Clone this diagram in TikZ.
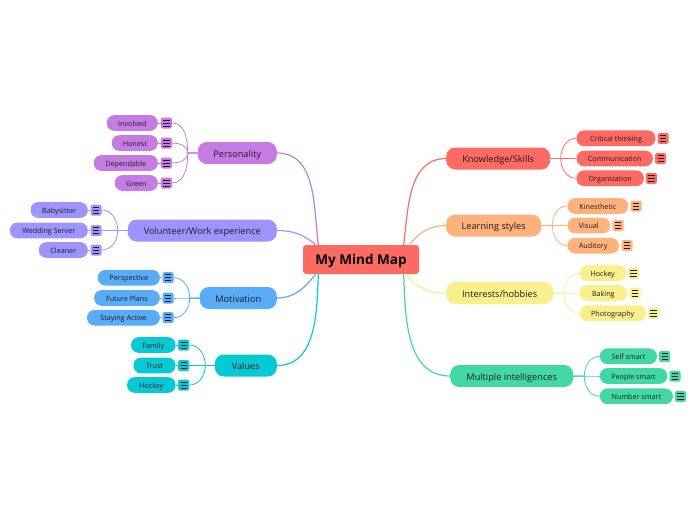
\documentclass[tikz,border=0pt]{standalone}
\usepackage{fontspec}
\setmainfont{Open Sans}
\usetikzlibrary{positioning,calc}
\definecolor{myred}{RGB}{255,106,99}
\definecolor{myorange}{RGB}{255,178,124}
\definecolor{myyellow}{RGB}{249,240,141}
\definecolor{mygreen}{RGB}{66,216,166}
\definecolor{mypurple}{RGB}{197,123,227}
\definecolor{myviolet}{RGB}{157,148,255}
\definecolor{myblue}{RGB}{89,172,247}
\definecolor{myteal}{RGB}{6,202,211}
\definecolor{myink}{RGB}{30,30,36}
\begin{document}
\begin{tikzpicture}[x=1pt,y=1pt,
    rootnode/.style={rectangle,rounded corners=3pt,fill=myred,minimum width=116pt,minimum height=29pt,inner sep=0pt,text height=11pt,text depth=1pt,font=\fontsize{13.5}{16}\selectfont\bfseries},
    branchnode/.style={rectangle,rounded corners=9pt,minimum height=22pt,inner sep=0pt,text=myink,text height=9pt,text depth=1pt,font=\fontsize{9.2}{11}\selectfont},
    leafnode/.style={rectangle,rounded corners=7.5pt,minimum height=15.7pt,inner sep=0pt,text=myink,text height=7.4pt,text depth=1pt,font=\fontsize{7.2}{8}\selectfont},
    iconnode/.style={rectangle,rounded corners=1.5pt,minimum size=11pt,inner sep=0pt,
      path picture={\foreach \d in {-3,0,3}
        \draw[myink,line width=.9pt] ([shift={(-3.2,\d)}]path picture bounding box.center) -- ++(6.4,0);}},
    mainline/.style={line width=1.2pt},
    leafline/.style={line width=.8pt}
  ]
  \useasboundingbox (0,0) rectangle (697,-520);

  % the root
  \node[rootnode] (root) at (361,-259.5) {My Mind Map};

  % the branches on the left
  \node[branchnode,fill=mypurple,anchor=east,minimum width=79pt] (per) at (277,-153) {Personality};
  \node[branchnode,fill=myviolet,anchor=east,minimum width=149pt] (vol) at (277,-230.5) {Volunteer/Work experience};
  \node[branchnode,fill=myblue,anchor=east,minimum width=77pt] (mot) at (277,-298) {Motivation};
  \node[branchnode,fill=myteal,anchor=east,minimum width=62pt] (val) at (277,-365.5) {Values};

  % the branches on the right
  \node[branchnode,fill=myred,anchor=west,minimum width=104pt] (kno) at (446,-158.5) {Knowledge/Skills};
  \node[branchnode,fill=myorange,anchor=west,minimum width=95pt] (lea) at (446,-225.5) {Learning styles};
  \node[branchnode,fill=myyellow,anchor=west,minimum width=107pt] (int) at (446,-293) {Interests/hobbies};
  \node[branchnode,fill=mygreen,anchor=west,minimum width=123pt] (mul) at (450,-376) {Multiple intelligences};

  % the joints
  \coordinate (jper) at (187.7,-153);
  \coordinate (jvol) at (117.7,-230.5);
  \coordinate (jmot) at (189.7,-298);
  \coordinate (jval) at (205.3,-365.5);
  \coordinate (jkno) at (560.7,-158.5);
  \coordinate (jlea) at (552.3,-225.5);
  \coordinate (jint) at (563.7,-293);
  \coordinate (jmul) at (584.3,-376);

  % the main lines
  \draw[mainline,mypurple] (per.east) to[out=0,in=97] (root.161);
  \draw[mainline,myviolet] (vol.east) to[out=0,in=140] (root.162);
  \draw[mainline,myblue] (mot.east) to[out=0,in=-130] (root.198);
  \draw[mainline,myteal] (val.east) to[out=0,in=-92] (root.199);
  \draw[mainline,myred] (kno.west) to[out=180,in=83] (root.19);
  \draw[mainline,myorange] (lea.west) to[out=180,in=50] (root.17);
  \draw[mainline,myyellow] (int.west) to[out=180,in=-55] (root.342);
  \draw[mainline,mygreen] (mul.west) to[out=180,in=-88] (root.341);

  % the leaves of Personality
  \foreach \n/\txt/\y/\w/\ang in {inv/Involved/123/51/90,hon/Honest/143/46/90,dep/Dependable/163/64/-90,gre/Green/183/43/-90} {
    \node[leafnode,fill=mypurple,anchor=east,minimum width=\w] (\n) at (158,-\y) {\txt};
    \node[iconnode,fill=mypurple] (i\n) at (166.3,-\y) {};
    \draw[leafline,mypurple] (\n.east) -- (i\n.west);
    \draw[leafline,mypurple] (i\n.east) to[out=0,in=\ang] (jper) -- (per.west);
  }

  % the leaves of Volunteer
  \foreach \n/\txt/\y/\w/\ang in {bab/Babysitter/210/57.3/90,wed/Wedding Server/230.5/78/180,cle/Cleaner/250/49/-90} {
    \node[leafnode,fill=myviolet,anchor=east,minimum width=\w] (\n) at (88,-\y) {\txt};
    \node[iconnode,fill=myviolet] (i\n) at (96,-\y) {};
    \draw[leafline,myviolet] (\n.east) -- (i\n.west);
    \draw[leafline,myviolet] (i\n.east) to[out=0,in=\ang] (jvol) -- (vol.west);
  }

  % the leaves of Motivation
  \foreach \n/\txt/\y/\w/\ang in {per2/Perspective/277.7/62/90,fut/Future Plans/298/65.7/180,sta/Staying Active/317.7/72.7/-90} {
    \node[leafnode,fill=myblue,anchor=east,minimum width=\w] (\n) at (160,-\y) {\txt};
    \node[iconnode,fill=myblue] (i\n) at (168,-\y) {};
    \draw[leafline,myblue] (\n.east) -- (i\n.west);
    \draw[leafline,myblue] (i\n.east) to[out=0,in=\ang] (jmot) -- (mot.west);
  }

  % the leaves of Values
  \foreach \n/\txt/\y/\w/\ang in {fam/Family/345/44.4/90,tru/Trust/365.5/42/180,hoc/Hockey/385/48.4/-90} {
    \node[leafnode,fill=myteal,anchor=east,minimum width=\w] (\n) at (175.7,-\y) {\txt};
    \node[iconnode,fill=myteal] (i\n) at (183.7,-\y) {};
    \draw[leafline,myteal] (\n.east) -- (i\n.west);
    \draw[leafline,myteal] (i\n.east) to[out=0,in=\ang] (jval) -- (val.west);
  }

  % the leaves of Knowledge
  \foreach \n/\txt/\y/\w/\ix/\ang in {cri/Critical thinking/138.3/79/663.2/90,com/Communication/158.5/76.4/660.7/0,org/Organization/178.3/67.4/651.4/-90} {
    \node[leafnode,fill=myred,anchor=west,minimum width=\w] (\n) at (576.3,-\y) {\txt};
    \node[iconnode,fill=myred] (i\n) at (\ix,-\y) {};
    \draw[leafline,myred] (\n.west) to[out=180,in=\ang] (jkno) -- (kno.east);
  }

  % the leaves of Learning
  \foreach \n/\txt/\y/\w/\ix/\ang in {kin/Kinesthetic/206/60.7/636/90,vis/Visual/225.5/42.7/618.2/0,aud/Auditory/245.7/51.4/627/-90} {
    \node[leafnode,fill=myorange,anchor=west,minimum width=\w] (\n) at (567.3,-\y) {\txt};
    \node[iconnode,fill=myorange] (i\n) at (\ix,-\y) {};
    \draw[leafline,myorange] (\n.west) to[out=180,in=\ang] (jlea) -- (lea.east);
  }

  % the leaves of Interests
  \foreach \n/\txt/\y/\w/\ix/\ang in {hob/Hockey/273.3/46.4/633.5/90,bak/Baking/293/47.7/635/0,pho/Photography/313.3/66.4/653.5/-90} {
    \node[leafnode,fill=myyellow,anchor=west,minimum width=\w] (\n) at (579.3,-\y) {\txt};
    \node[iconnode,fill=myyellow] (i\n) at (\ix,-\y) {};
    \draw[leafline,myyellow] (\n.west) to[out=180,in=\ang] (jint) -- (int.east);
  }

  % the leaves of Multiple
  \foreach \n/\txt/\y/\w/\ix/\ang in {sel/Self smart/356.3/57/664.7/90,peo/People smart/376/67.3/675/0,num/Number smart/396.3/73/680.5/-90} {
    \node[leafnode,fill=mygreen,anchor=west,minimum width=\w] (\n) at (599.7,-\y) {\txt};
    \node[iconnode,fill=mygreen] (i\n) at (\ix,-\y) {};
    \draw[leafline,mygreen] (\n.west) to[out=180,in=\ang] (jmul) -- (mul.east);
  }
\end{tikzpicture}
\end{document}
